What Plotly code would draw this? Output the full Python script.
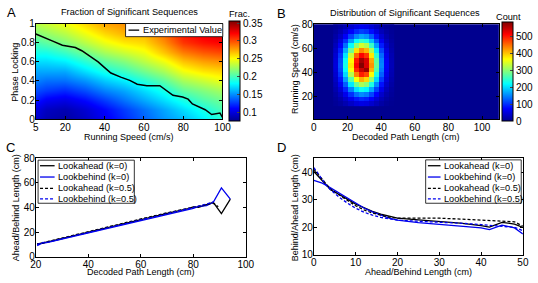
import plotly.graph_objects as go

W, H = 538, 283
FONT = "Liberation Sans, Arial, Helvetica, sans-serif"

# ---------------- Panel A data ----------------
a_speed = [5, 10, 20, 30, 40, 50, 60, 70, 80, 90, 100]
a_phase = [0.0, 0.1, 0.2, 0.3, 0.4, 0.5, 0.6, 0.7, 0.8, 0.9, 1.0]
a_frac = [
    [0.095, 0.085, 0.080, 0.090, 0.105, 0.120, 0.135, 0.150, 0.160, 0.175, 0.190],
    [0.100, 0.090, 0.085, 0.095, 0.110, 0.125, 0.140, 0.155, 0.170, 0.185, 0.200],
    [0.115, 0.105, 0.100, 0.110, 0.125, 0.140, 0.155, 0.170, 0.185, 0.200, 0.210],
    [0.130, 0.125, 0.120, 0.130, 0.145, 0.155, 0.170, 0.185, 0.205, 0.215, 0.225],
    [0.145, 0.140, 0.140, 0.150, 0.165, 0.175, 0.190, 0.205, 0.225, 0.235, 0.245],
    [0.155, 0.155, 0.155, 0.170, 0.185, 0.195, 0.210, 0.225, 0.245, 0.255, 0.260],
    [0.170, 0.170, 0.175, 0.190, 0.205, 0.215, 0.230, 0.245, 0.265, 0.275, 0.280],
    [0.185, 0.185, 0.195, 0.210, 0.225, 0.235, 0.245, 0.265, 0.285, 0.295, 0.300],
    [0.200, 0.205, 0.215, 0.230, 0.245, 0.255, 0.260, 0.280, 0.305, 0.315, 0.320],
    [0.215, 0.220, 0.230, 0.245, 0.260, 0.270, 0.270, 0.290, 0.315, 0.325, 0.335],
    [0.230, 0.235, 0.245, 0.260, 0.275, 0.280, 0.275, 0.295, 0.320, 0.335, 0.350],
]
exp_speed = [5, 10.2, 13.6, 18.5, 25.1, 28.4, 32.5, 36.7, 40, 43.2, 48.2, 52.8, 56.6,
             61.5, 68.1, 71.5, 74.8, 79.7, 82.5, 84.7, 88, 91.2, 94.5, 98.7, 100]
exp_phase = [0.89, 0.85, 0.816, 0.773, 0.75, 0.716, 0.66, 0.6, 0.54, 0.483, 0.44, 0.406,
             0.366, 0.35, 0.35, 0.30, 0.25, 0.233, 0.21, 0.16, 0.13, 0.1, 0.05, 0.066, 0.02]
a_xticks = [5, 20, 40, 60, 80, 100]
a_yticks = [0, 0.2, 0.4, 0.6, 0.8, 1]
a_ytext = ["0", "0.2", "0.4", "0.6", "0.8", "1"]
a_cticks = [0.1, 0.15, 0.2, 0.25, 0.3, 0.35]
a_ctext = ["0.1", "0.15", "0.2", "0.25", "0.3", "0.35"]

# ---------------- Panel B data ----------------
b_len = [13, 16, 19, 22, 25, 28, 31, 34, 37, 40, 43, 46]
b_speed = [14, 18, 22, 26, 30, 34, 38, 42, 46, 50, 54, 58, 62, 66, 70, 74, 78]
b_count = [
    [5, 11, 22, 36, 49, 55, 52, 41, 27, 14, 6, 2],
    [8, 19, 38, 62, 84, 95, 89, 70, 45, 25, 11, 4],
    [13, 31, 61, 99, 135, 152, 143, 112, 73, 39, 18, 7],
    [20, 46, 91, 148, 201, 227, 214, 167, 109, 59, 27, 10],
    [27, 64, 126, 206, 280, 316, 297, 233, 152, 82, 37, 14],
    [35, 83, 163, 267, 362, 409, 385, 301, 196, 106, 48, 18],
    [42, 100, 197, 321, 436, 493, 470, 363, 236, 128, 58, 22],
    [48, 112, 220, 360, 489, 540, 565, 407, 265, 143, 65, 24],
    [50, 118, 231, 377, 512, 580, 530, 426, 277, 150, 68, 26],
    [49, 114, 224, 367, 497, 562, 529, 414, 270, 146, 66, 25],
    [44, 104, 204, 333, 452, 510, 480, 376, 245, 133, 60, 23],
    [37, 88, 172, 281, 381, 431, 405, 317, 206, 112, 51, 19],
    [29, 69, 135, 221, 300, 339, 319, 250, 163, 88, 40, 15],
    [21, 51, 99, 162, 220, 248, 234, 183, 119, 64, 29, 11],
    [15, 35, 68, 111, 150, 169, 159, 125, 81, 44, 20, 7],
    [9, 22, 43, 70, 95, 108, 101, 79, 52, 28, 13, 5],
    [6, 13, 25, 42, 56, 64, 60, 47, 31, 17, 7, 3],
]
b_xticks = [0, 20, 40, 60, 80, 100]
b_yticks = [20, 40, 60, 80]
b_cticks = [0, 100, 200, 300, 400, 500]

# ---------------- Panel C data ----------------
c_la0_x = [20.5, 22.0, 25, 30, 40, 50, 60, 70, 78, 80, 82, 85, 87.6, 90.7, 94.1]
c_la0_y = [10.0, 11.0, 12.2, 14.8, 19.8, 25.0, 30.2, 35.2, 39.0, 40.5, 40.0, 42.0, 44.2, 35.0, 46.7]
c_lb0_x = [20.5, 22.0, 25, 30, 40, 50, 60, 70, 78, 80, 82, 85, 87.6, 90.7, 94.1]
c_lb0_y = [9.0, 10.5, 11.8, 14.3, 19.2, 24.2, 29.2, 34.5, 38.5, 39.2, 40.8, 41.5, 44.2, 55.9, 46.7]
c_la5_x = [20.5, 22, 25, 30, 40, 50, 60, 70, 78, 80, 82, 85, 87.6, 89.5]
c_la5_y = [10.5, 10.5, 12.5, 15.0, 20.2, 25.3, 30.6, 35.6, 39.3, 40.2, 41.5, 42.5, 43.5, 40.5]
c_lb5_x = [20.5, 22, 25, 30, 40, 50, 60, 70, 78, 80, 82, 85, 87.6]
c_lb5_y = [9.8, 11.2, 12.0, 14.5, 19.5, 24.6, 29.7, 35.0, 38.7, 40.0, 41.0, 42.8, 44.5]
c_xticks = [20, 40, 60, 80, 100]
c_yticks = [0, 20, 40, 60, 80]

# ---------------- Panel D data ----------------
d_x = [0, 1, 2, 3, 4, 5, 6, 8, 10, 12, 14, 16, 18, 20, 25, 30, 35, 40, 42, 45, 48, 50]
d_la0 = [40.2, 38.5, 36.8, 35.0, 33.6, 32.8, 32.0, 30.2, 28.4, 27.0, 25.8, 24.8, 24.0, 23.3,
         22.7, 22.2, 21.5, 20.6, 20.1, 21.8, 21.2, 20.0]
d_lb0 = [37.0, 36.6, 36.0, 35.2, 34.3, 33.4, 32.5, 30.6, 28.7, 27.0, 25.6, 24.4, 23.3, 22.6,
         21.7, 21.1, 20.5, 19.8, 19.2, 20.8, 19.8, 17.6]
d_la5 = [41.0, 39.2, 37.2, 35.3, 33.8, 32.8, 31.9, 29.8, 27.8, 26.3, 25.2, 24.4, 23.7, 23.3,
         23.4, 23.3, 23.0, 22.7, 22.6, 22.3, 22.0, 20.4]
d_lb5 = [41.6, 39.5, 37.2, 35.2, 33.6, 32.3, 31.0, 28.8, 26.9, 25.5, 24.4, 23.6, 23.0, 22.6,
         22.2, 21.9, 21.5, 21.0, 20.8, 20.4, 20.0, 18.8]
d_xticks = [0, 10, 20, 30, 40, 50]
d_yticks = [10, 20, 30, 40]

series_names = ["Lookahead (k=0)", "Lookbehind (k=0)", "Lookahead (k=0.5)", "Lookbehind (k=0.5)"]
series_colors = ["black", "#0000ee", "black", "#0000ee"]
series_dash = ["solid", "solid", "3px,2px", "3px,2px"]

JET = [[0.0, "rgb(0,0,143)"], [0.125, "rgb(0,0,255)"], [0.375, "rgb(0,255,255)"],
       [0.625, "rgb(255,255,0)"], [0.875, "rgb(255,0,0)"], [1.0, "rgb(128,0,0)"]]


def px(x):
    return x / W


def py(y):
    return 1 - y / H


fig = go.Figure()

fig.add_trace(go.Heatmap(
    x=a_speed, y=a_phase, z=a_frac, zsmooth="best", colorscale=JET,
    zmin=0.074, zmax=0.355, xaxis="x", yaxis="y", showscale=True,
    colorbar=dict(x=px(229), xanchor="left", xpad=0, y=py(68.2), yanchor="middle", ypad=0,
                  len=100, lenmode="pixels", thickness=11, thicknessmode="pixels",
                  outlinewidth=1, outlinecolor="black", ticks="inside", ticklen=3,
                  tickvals=a_cticks, ticktext=a_ctext, tickfont=dict(size=10, family=FONT)),
))
fig.add_trace(go.Scatter(x=exp_speed, y=exp_phase, mode="lines", name="Experimental Value",
                         line=dict(color="black", width=1.5), xaxis="x", yaxis="y",
                         showlegend=False))

fig.add_trace(go.Heatmap(
    x=b_len, y=b_speed, z=b_count, zsmooth=False, colorscale=JET, zmin=0, zmax=582,
    xaxis="x2", yaxis="y2", showscale=True,
    colorbar=dict(x=px(510), xanchor="left", xpad=0, y=py(68.5), yanchor="middle", ypad=0,
                  len=99, lenmode="pixels", thickness=11, thicknessmode="pixels",
                  outlinewidth=1, outlinecolor="black", ticks="inside", ticklen=3,
                  tickvals=b_cticks, tickfont=dict(size=10, family=FONT)),
))

c_sets = [(c_la0_x, c_la0_y), (c_lb0_x, c_lb0_y), (c_la5_x, c_la5_y), (c_lb5_x, c_lb5_y)]
for (xs, ys), nm, col, dsh in zip(c_sets, series_names, series_colors, series_dash):
    fig.add_trace(go.Scatter(x=xs, y=ys, mode="lines", name=nm, showlegend=False,
                             line=dict(color=col, width=1.3, dash=dsh), xaxis="x3", yaxis="y3"))

d_sets = [d_la0, d_lb0, d_la5, d_lb5]
for ys, nm, col, dsh in zip(d_sets, series_names, series_colors, series_dash):
    fig.add_trace(go.Scatter(x=d_x, y=ys, mode="lines", name=nm, showlegend=False,
                             line=dict(color=col, width=1.3, dash=dsh), xaxis="x4", yaxis="y4"))


def axis(domain, rng, tickvals, anchor, ticktext=None, standoff=0):
    d = dict(domain=domain, range=rng, tickvals=tickvals, anchor=anchor, ticks="inside",
             ticklen=3, tickcolor="black", showline=True, linecolor="black", linewidth=1,
             mirror="ticks", showgrid=False, zeroline=False, ticklabelstandoff=standoff,
             tickfont=dict(size=10, family=FONT, color="black"))
    if ticktext is not None:
        d["ticktext"] = ticktext
    return d


layout = dict(
    width=W, height=H, margin=dict(l=0, r=0, t=0, b=0),
    paper_bgcolor="white", plot_bgcolor="white",
    font=dict(family=FONT, color="black", size=10),
    xaxis=axis([px(30.7), px(222.7)], [5, 100], a_xticks, "y", standoff=-1),
    yaxis=axis([py(118.3), py(18.3)], [0, 1], a_yticks, "x", a_ytext, standoff=-2),
    xaxis2=axis([px(316.7), px(507)], [0, 110], b_xticks, "y2", standoff=-1),
    yaxis2=axis([py(118.3), py(19)], [1.5, 80], b_yticks, "x2", standoff=-2),
    xaxis3=axis([px(30.7), px(246.7)], [20, 100], c_xticks, "y3", standoff=-2),
    yaxis3=axis([py(261.7), py(159)], [0, 80], c_yticks, "x3", standoff=-2),
    xaxis4=axis([px(316.7), px(531.7)], [0, 50], d_xticks, "y4", standoff=-2),
    yaxis4=axis([py(260), py(159)], [10, 45], d_yticks, "x4", standoff=-2),
)
fig.update_layout(**layout)

shapes = []
# Panel B dark-blue background (zero counts)
shapes.append(dict(type="rect", xref="x2 domain", yref="y2 domain", x0=0, x1=1, y0=0, y1=1,
                   fillcolor="rgb(0,0,143)", line=dict(width=0), layer="below"))

annotations = []


def text(x, y, s, size=9.2, xanchor="center", angle=0):
    annotations.append(dict(x=px(x), y=py(y), xref="paper", yref="paper", text=s,
                            showarrow=False, xanchor=xanchor, yanchor="middle",
                            textangle=angle, font=dict(size=size, family=FONT, color="black")))


def legend_box(x0, x1, y0, y1, entries, lx0, lx1, tx, ys):
    shapes.append(dict(type="rect", xref="paper", yref="paper", x0=px(x0), x1=px(x1),
                       y0=py(y1), y1=py(y0), fillcolor="white",
                       line=dict(color="black", width=0.8), layer="above"))
    for (nm, col, dsh), yy in zip(entries, ys):
        shapes.append(dict(type="line", xref="paper", yref="paper", x0=px(lx0), x1=px(lx1),
                           y0=py(yy), y1=py(yy), line=dict(color=col, width=1.3, dash=dsh),
                           layer="above"))
        text(tx, yy, nm, size=9.2, xanchor="left")


legend_box(123, 223, 18.3, 32, [("Experimental Value", "black", "solid")], 126, 137, 139, [25.2])
entries = list(zip(series_names, series_colors, series_dash))
legend_box(33, 132, 161, 206, entries, 35, 50, 51.5, [166.8, 178.6, 190.4, 201.5])
legend_box(431.7, 530, 160.7, 206, entries, 434, 447, 448.5, [166.8, 178.6, 190.4, 201.5])

# titles, panel letters, axis titles
text(6, 7, "A", size=13)
text(283, 8, "B", size=13)
text(5, 148, "C", size=13)
text(283, 148, "D", size=13)
text(126.7, 6.5, "Fraction of Significant Sequences")
text(410.5, 7.3, "Distribution of Significant Sequences")
text(240, 8, "Frac.", size=9.2)
text(517, 11.5, "Count", size=9.2)
text(126.7, 136.5, "Running Speed (cm/s)", size=9)
text(9, 69, "Phase Locking", size=9, angle=-90)
text(411, 136.5, "Decoded Path Length (cm)", size=9)
text(297, 66, "Running Speed (cm/s)", size=9, angle=-90)
text(138.7, 278, "Decoded Path Length (cm)", size=9)
text(10.5, 211, "Ahead/Behind Length (cm)", size=9, angle=-90)
text(424, 277.5, "Ahead/Behind Length (cm)", size=9)
text(297.5, 211, "Behind/Ahead Length (cm)", size=9, angle=-90)

fig.update_layout(shapes=shapes, annotations=annotations)
fig.write_html("out.html", config={"displayModeBar": False, "staticPlot": True},
               post_script="document.body.style.margin='0';document.body.style.overflow='hidden';")
